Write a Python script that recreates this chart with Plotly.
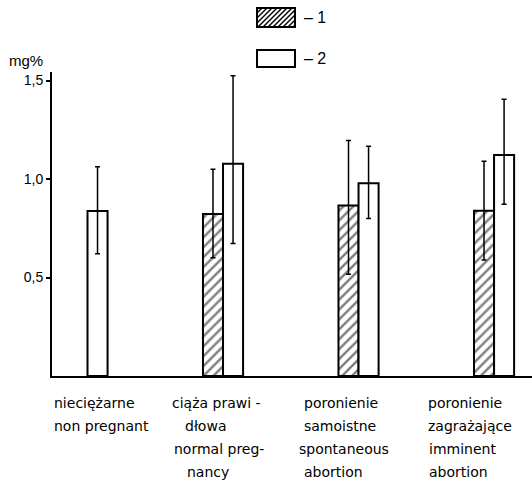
import plotly.graph_objects as go

# ---- data ----
categories = ["nieciężarne", "ciąża prawidłowa", "poronienie samoistne", "poronienie zagrażające"]
label_lines = [
    ["nieciężarne", "non pregnant"],
    ["ciąża prawi -", "dłowa", "normal preg-", "nancy"],
    ["poronienie", "samoistne", "spontaneous", "abortion"],
    ["poronienie", "zagrażające", "imminent", "abortion"],
]
series1_values = [None, 0.822, 0.865, 0.839]
series1_err_plus = [None, 0.228, 0.331, 0.251]
series1_err_minus = [None, 0.222, 0.349, 0.25]
series2_values = [0.837, 1.078, 0.978, 1.122]
series2_err_plus = [0.225, 0.446, 0.188, 0.283]
series2_err_minus = [0.217, 0.406, 0.178, 0.25]
y_tickvals = [0.5, 1.0, 1.5]
y_ticktext = ["0,5", "1,0", "1,5"]
legend_labels = ["– 1", "– 2"]

# ---- layout geometry (pixels) ----
W, H = 532, 485
ML, MR, MT, MB = 52, 0, 72, 109
PW, PH = W - ML - MR, H - MT - MB


def px(x):
    return (x - ML) / PW


def py(y):
    return (H - MB - y) / PH


fig = go.Figure()
fig.add_trace(go.Bar(
    x=categories, y=series1_values, name="1",
    marker=dict(color="white", line=dict(color="black", width=2),
                pattern=dict(shape="/", fgcolor="black", bgcolor="white", size=7, solidity=0.35)),
    error_y=dict(type="data", symmetric=False, array=series1_err_plus, arrayminus=series1_err_minus,
                 color="black", thickness=1.5, width=2.5),
))
fig.add_trace(go.Bar(
    x=categories, y=series2_values, name="2",
    marker=dict(color="white", line=dict(color="black", width=2)),
    error_y=dict(type="data", symmetric=False, array=series2_err_plus, arrayminus=series2_err_minus,
                 color="black", thickness=1.5, width=2.5),
))

annotations = []
shapes = []

# category labels (left aligned blocks)
line_y = [403, 426, 449, 472]
line_x = [
    [52, 52],
    [170, 183, 172, 185],
    [302, 302, 297, 302],
    [426, 426, 427, 427],
]
for ci, lines in enumerate(label_lines):
    for li, t in enumerate(lines):
        annotations.append(dict(
            text=t, x=px(line_x[ci][li]), y=py(line_y[li]), xref="paper", yref="paper",
            xanchor="left", yanchor="middle", showarrow=False,
            font=dict(family="DejaVu Sans", size=14, color="black")))

# unit label
annotations.append(dict(text="mg%", x=px(7), y=py(60), xref="paper", yref="paper",
                        xanchor="left", yanchor="middle", showarrow=False,
                        font=dict(family="Liberation Sans", size=15, color="black")))

# custom legend
boxes = [(257, 8, 295, 27, True), (257, 50, 295, 67, False)]
for (x0, y0, x1, y1, hatched), lab in zip(boxes, legend_labels):
    shapes.append(dict(type="rect", xref="paper", yref="paper",
                       x0=px(x0), x1=px(x1), y0=py(y1), y1=py(y0),
                       line=dict(color="black", width=2), fillcolor="white"))
    if hatched:
        h = y1 - y0
        step = 5
        s = x0 - h
        while s < x1:
            ax, ay, bx, by = s, y1, s + h, y0
            if ax < x0:
                ay = y1 - (x0 - ax)
                ax = x0
            if bx > x1:
                by = y0 + (bx - x1)
                bx = x1
            if bx > ax:
                shapes.append(dict(type="line", xref="paper", yref="paper",
                                   x0=px(ax), y0=py(ay), x1=px(bx), y1=py(by),
                                   line=dict(color="black", width=1.5)))
            s += step
    annotations.append(dict(text=lab, x=px(302), y=py((y0 + y1) / 2), xref="paper", yref="paper",
                            xanchor="left", yanchor="middle", showarrow=False,
                            font=dict(family="Liberation Sans", size=16, color="black")))

fig.update_layout(
    width=W, height=H,
    margin=dict(l=ML, r=MR, t=MT, b=MB, pad=0),
    paper_bgcolor="white", plot_bgcolor="white",
    barmode="group", bargap=0.704, bargroupgap=0,
    showlegend=False,
    annotations=annotations, shapes=shapes,
    xaxis=dict(range=[-0.262, 3.28], showticklabels=False, ticks="", showgrid=False,
               zeroline=False, showline=True, linecolor="black", linewidth=2),
    yaxis=dict(range=[0, PH / 197.0], tickvals=y_tickvals, ticktext=y_ticktext,
               ticks="outside", ticklen=4, tickcolor="black", tickwidth=1.5,
               showgrid=False, zeroline=False, showline=True, linecolor="black", linewidth=2,
               tickfont=dict(family="Liberation Sans", size=14, color="black")),
)

fig.write_html("out.html", config={"displayModeBar": False},
               post_script="document.body.style.margin='0px';document.body.style.overflow='hidden';")
